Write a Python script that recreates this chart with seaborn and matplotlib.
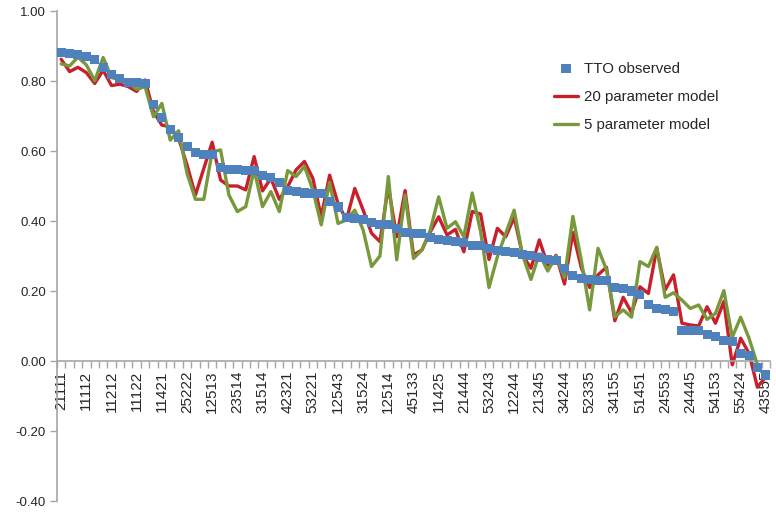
import matplotlib
matplotlib.use("Agg")
import matplotlib.pyplot as plt
import numpy as np
import pandas as pd
import seaborn as sns

# Health states, labelled every third category on the axis
state_labels = ["21111", "11112", "11212", "11122", "11421", "25222", "12513",
                "23514", "31514", "42321", "53221", "12543", "31524", "12514",
                "45133", "11425", "21444", "53243", "12244", "21345", "34244",
                "52335", "34155", "51451", "24553", "24445", "54153", "55424",
                "43555"]
label_step = 3

tto_observed = [0.881, 0.878, 0.876, 0.871, 0.861, 0.839, 0.819, 0.807, 0.797, 0.797,
                0.794, 0.733, 0.696, 0.662, 0.639, 0.612, 0.595, 0.590, 0.589, 0.552,
                0.548, 0.548, 0.545, 0.543, 0.530, 0.524, 0.511, 0.486, 0.484, 0.480,
                0.478, 0.478, 0.455, 0.440, 0.411, 0.406, 0.403, 0.396, 0.391, 0.390,
                0.379, 0.367, 0.364, 0.363, 0.353, 0.348, 0.343, 0.341, 0.338, 0.331,
                0.329, 0.321, 0.315, 0.312, 0.310, 0.304, 0.301, 0.297, 0.291, 0.287,
                0.263, 0.245, 0.236, 0.234, 0.230, 0.229, 0.210, 0.206, 0.200, 0.190,
                0.162, 0.150, 0.146, 0.141, 0.087, 0.087, 0.086, 0.076, 0.071, 0.058,
                0.055, 0.022, 0.015, -0.019, -0.040]

model_20 = [0.862, 0.827, 0.839, 0.824, 0.793, 0.831, 0.787, 0.791, 0.784, 0.770,
            0.803, 0.712, 0.674, 0.669, 0.636, 0.560, 0.474, 0.550, 0.625, 0.517,
            0.500, 0.500, 0.489, 0.584, 0.486, 0.522, 0.462, 0.498, 0.546, 0.570,
            0.522, 0.412, 0.531, 0.450, 0.403, 0.493, 0.431, 0.365, 0.341, 0.498,
            0.355, 0.487, 0.303, 0.317, 0.369, 0.412, 0.360, 0.376, 0.312, 0.427,
            0.420, 0.290, 0.379, 0.355, 0.410, 0.303, 0.265, 0.346, 0.274, 0.302,
            0.220, 0.367, 0.267, 0.210, 0.246, 0.268, 0.115, 0.182, 0.138, 0.212,
            0.193, 0.322, 0.203, 0.246, 0.108, 0.103, 0.100, 0.155, 0.108, 0.170,
            -0.011, 0.065, 0.022, -0.075, -0.045]

model_5 = [0.849, 0.843, 0.868, 0.846, 0.801, 0.867, 0.810, 0.803, 0.795, 0.776,
           0.784, 0.698, 0.736, 0.631, 0.658, 0.536, 0.462, 0.462, 0.598, 0.603,
           0.474, 0.427, 0.441, 0.546, 0.441, 0.484, 0.427, 0.544, 0.527, 0.556,
           0.489, 0.389, 0.510, 0.393, 0.403, 0.431, 0.374, 0.270, 0.300, 0.527,
           0.289, 0.474, 0.293, 0.317, 0.374, 0.469, 0.379, 0.398, 0.355, 0.480,
           0.370, 0.210, 0.298, 0.365, 0.431, 0.303, 0.233, 0.306, 0.257, 0.300,
           0.238, 0.413, 0.288, 0.146, 0.322, 0.261, 0.126, 0.146, 0.125, 0.284,
           0.270, 0.325, 0.182, 0.195, 0.174, 0.150, 0.160, 0.119, 0.136, 0.201,
           0.068, 0.125, 0.065, -0.011, -0.050]

series_names = ["TTO observed", "20 parameter model", "5 parameter model"]

n = len(tto_observed)
df = pd.DataFrame({
    "pos": np.arange(n),
    "tto": tto_observed,
    "m20": model_20,
    "m5": model_5,
})

sns.set_style("white")
plt.rcParams["font.family"] = ["Liberation Sans", "DejaVu Sans"]
plt.rcParams["axes.unicode_minus"] = False

fig = plt.figure(figsize=(7.76, 5.12), dpi=100)
ax = fig.add_axes([57 / 776, 11 / 512, 713 / 776, 490 / 512])

blue = "#4F81BD"
red = "#C8202A"
green = "#77993C"

sns.lineplot(data=df, x="pos", y="m20", ax=ax, color=red, linewidth=2.4,
             label=series_names[1], zorder=2)
sns.lineplot(data=df, x="pos", y="m5", ax=ax, color=green, linewidth=2.4,
             label=series_names[2], zorder=3)
sns.scatterplot(data=df, x="pos", y="tto", ax=ax, color=blue, marker="s", s=42,
                edgecolor="none", label=series_names[0], zorder=4)

ax.set_xlim(-0.5, n - 0.5)
ax.set_ylim(-0.4, 1.0)
ax.set_xlabel("")
ax.set_ylabel("")

# Category axis crossing at zero, ticks on category boundaries
axis_grey = "#A6A6A6"
ax.spines["bottom"].set_position(("data", 0))
for side in ("top", "right"):
    ax.spines[side].set_visible(False)
ax.spines["bottom"].set_color(axis_grey)
ax.spines["left"].set_color(axis_grey)
ax.spines["bottom"].set_linewidth(1.2)
ax.spines["left"].set_linewidth(1.2)

ax.set_xticks(np.arange(0, n, label_step))
ax.set_xticklabels(state_labels, rotation=90, fontsize=11, color="#262626")
ax.set_xticks(np.arange(-0.5, n, 1), minor=True)
ax.tick_params(axis="x", which="major", length=0, pad=7)
ax.tick_params(axis="x", which="minor", length=5, width=1, color=axis_grey,
               direction="out", bottom=True)

yticks = np.round(np.arange(-0.4, 1.01, 0.2), 2)
ax.set_yticks(yticks)
ax.set_yticklabels([f"{v:.2f}" for v in yticks], fontsize=9.5, color="#262626")
ax.tick_params(axis="y", which="major", length=5, width=1, color=axis_grey,
               direction="out", left=True, pad=3)

handles, labels = ax.get_legend_handles_labels()
order = [labels.index(name) for name in series_names]
ax.legend([handles[i] for i in order], [labels[i] for i in order],
          loc="center left", bbox_to_anchor=(548 / 776, 1 - 97 / 512),
          bbox_transform=fig.transFigure, frameon=False, fontsize=10.8,
          handlelength=1.6, handletextpad=0.4, labelspacing=0.95,
          borderaxespad=0)

fig.savefig("out.png", dpi=100, facecolor="white")
